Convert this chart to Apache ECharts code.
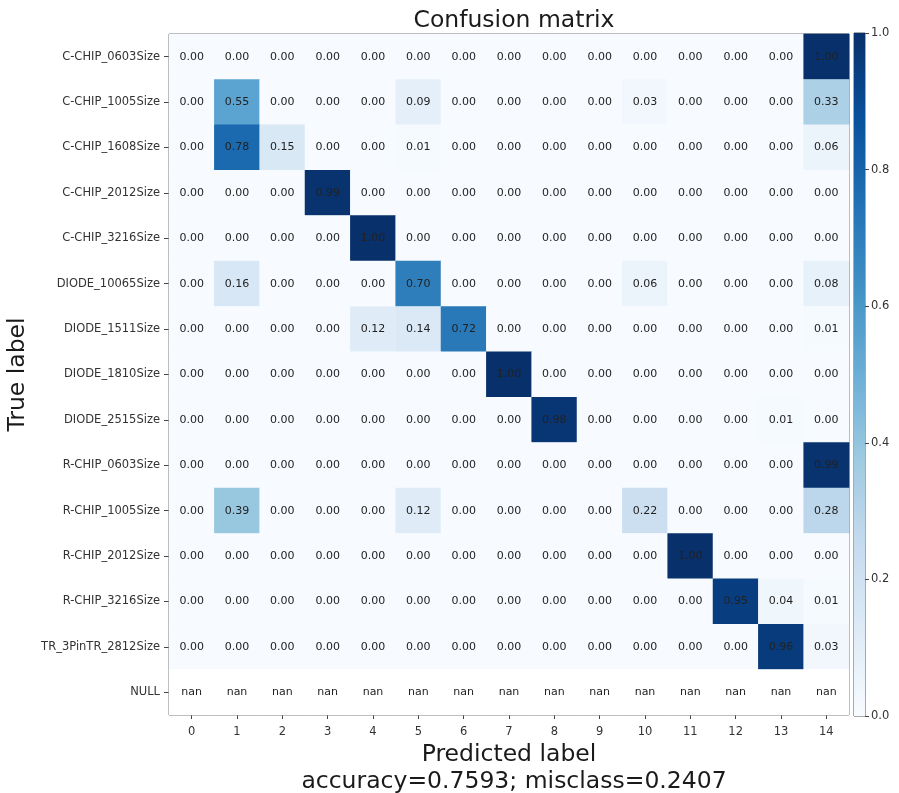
<!DOCTYPE html>
<html>
<head>
<meta charset="utf-8">
<script src="https://cdn.jsdelivr.net/npm/echarts@6/dist/echarts.min.js"></script>
<style>html,body{margin:0;padding:0;background:#fff}#c{width:899px;height:793px}</style>
</head>
<body>
<div id="c"></div>
<script>
const trueLabels = ['C-CHIP_0603Size','C-CHIP_1005Size','C-CHIP_1608Size','C-CHIP_2012Size','C-CHIP_3216Size','DIODE_10065Size','DIODE_1511Size','DIODE_1810Size','DIODE_2515Size','R-CHIP_0603Size','R-CHIP_1005Size','R-CHIP_2012Size','R-CHIP_3216Size','TR_3PinTR_2812Size','NULL'];
const predLabels = ['0','1','2','3','4','5','6','7','8','9','10','11','12','13','14'];
const row0  = [0,0,0,0,0,0,0,0,0,0,0,0,0,0,1.00];
const row1  = [0,0.55,0,0,0,0.09,0,0,0,0,0.03,0,0,0,0.33];
const row2  = [0,0.78,0.15,0,0,0.01,0,0,0,0,0,0,0,0,0.06];
const row3  = [0,0,0,0.99,0,0,0,0,0,0,0,0,0,0,0];
const row4  = [0,0,0,0,1.00,0,0,0,0,0,0,0,0,0,0];
const row5  = [0,0.16,0,0,0,0.70,0,0,0,0,0.06,0,0,0,0.08];
const row6  = [0,0,0,0,0.12,0.14,0.72,0,0,0,0,0,0,0,0.01];
const row7  = [0,0,0,0,0,0,0,1.00,0,0,0,0,0,0,0];
const row8  = [0,0,0,0,0,0,0,0,0.98,0,0,0,0,0.01,0];
const row9  = [0,0,0,0,0,0,0,0,0,0,0,0,0,0,0.99];
const row10 = [0,0.39,0,0,0,0.12,0,0,0,0,0.22,0,0,0,0.28];
const row11 = [0,0,0,0,0,0,0,0,0,0,0,1.00,0,0,0];
const row12 = [0,0,0,0,0,0,0,0,0,0,0,0,0.95,0.04,0.01];
const row13 = [0,0,0,0,0,0,0,0,0,0,0,0,0,0.96,0.03];
const row14 = [NaN,NaN,NaN,NaN,NaN,NaN,NaN,NaN,NaN,NaN,NaN,NaN,NaN,NaN,NaN];
const matrix = [row0,row1,row2,row3,row4,row5,row6,row7,row8,row9,row10,row11,row12,row13,row14];
const colorbarTicks = [0,0.2,0.4,0.6,0.8,1.0];
const accuracyText = 'accuracy=0.7593; misclass=0.2407';

const blues = ['#f7fbff','#deebf7','#c6dbef','#9ecae1','#6baed6','#4292c6','#2171b5','#08519c','#08306b'];
const cells = [], nanCells = [];
matrix.forEach((r, yi) => r.forEach((v, xi) => {
  if (isNaN(v)) nanCells.push([xi, yi, 0]); else cells.push([xi, yi, v]);
}));
const font = 'DejaVu Sans';
const chart = echarts.init(document.getElementById('c'), null, {renderer:'canvas'});
chart.setOption({
  animation:false,
  backgroundColor:'#fff',
  textStyle:{fontFamily:font},
  title:[
    {text:'Confusion matrix', left:509, top:4, textAlign:'center',
     textStyle:{fontFamily:font, fontSize:23.5, fontWeight:'normal', color:'#1a1a1a'}},
    {text:accuracyText, left:509, top:765, textAlign:'center',
     textStyle:{fontFamily:font, fontSize:23.5, fontWeight:'normal', color:'#1a1a1a'}}
  ],
  grid:[
    {left:169, top:34, width:680, height:681, show:true, borderColor:'#555', borderWidth:1, backgroundColor:'#fff',
     containLabel:false, outerBoundsMode:'none'},
    {left:854, top:33, width:11, height:683, show:true, borderColor:'#555', borderWidth:1,
     containLabel:false, outerBoundsMode:'none'}
  ],
  xAxis:[
    {type:'category', data:predLabels, gridIndex:0, name:'Predicted label', nameLocation:'middle', nameGap:25,
     nameTextStyle:{fontFamily:font, fontSize:23.5, color:'#1a1a1a'},
     axisLine:{show:false}, splitLine:{show:false},
     axisTick:{show:true, alignWithLabel:true, length:4, lineStyle:{color:'#444'}},
     axisLabel:{fontFamily:font, fontSize:11.5, color:'#333', margin:11}},
    {type:'category', data:['cb'], gridIndex:1, show:false}
  ],
  yAxis:[
    {type:'category', data:trueLabels, gridIndex:0, inverse:true, name:'True label', nameLocation:'middle', nameGap:138, nameRotate:90,
     nameTextStyle:{fontFamily:font, fontSize:23.5, color:'#1a1a1a'},
     axisLine:{show:false}, splitLine:{show:false},
     axisTick:{show:true, alignWithLabel:true, length:5, lineStyle:{color:'#444'}},
     axisLabel:{fontFamily:font, fontSize:11.5, color:'#333', margin:9}},
    {type:'value', gridIndex:1, min:0, max:1, interval:0.2, position:'right',
     axisLine:{show:false}, splitLine:{show:false},
     axisTick:{show:true, length:4, lineStyle:{color:'#444'}},
     axisLabel:{fontFamily:font, fontSize:11.5, color:'#333', margin:6, formatter:v=>v.toFixed(1)}}
  ],
  visualMap:{show:false, min:0, max:1, seriesIndex:0, inRange:{color:blues}},
  series:[
    {type:'heatmap', xAxisIndex:0, yAxisIndex:0, data:cells,
     label:{show:true, fontFamily:font, fontSize:11, color:'#222', formatter:p=>p.value[2].toFixed(2)},
     itemStyle:{borderWidth:0}},
    {type:'heatmap', xAxisIndex:0, yAxisIndex:0, data:nanCells,
     itemStyle:{color:'#ffffff'},
     label:{show:true, fontFamily:font, fontSize:11, color:'#222', formatter:()=> 'nan'}},
    {type:'bar', xAxisIndex:1, yAxisIndex:1, data:[colorbarTicks[colorbarTicks.length-1]], barWidth:'100%', silent:true,
     itemStyle:{color:{type:'linear', x:0, y:0, x2:0, y2:1,
       colorStops: blues.slice().reverse().map((c,i)=>({offset:i/(blues.length-1), color:c}))}}}
  ]
});
</script>
</body>
</html>
